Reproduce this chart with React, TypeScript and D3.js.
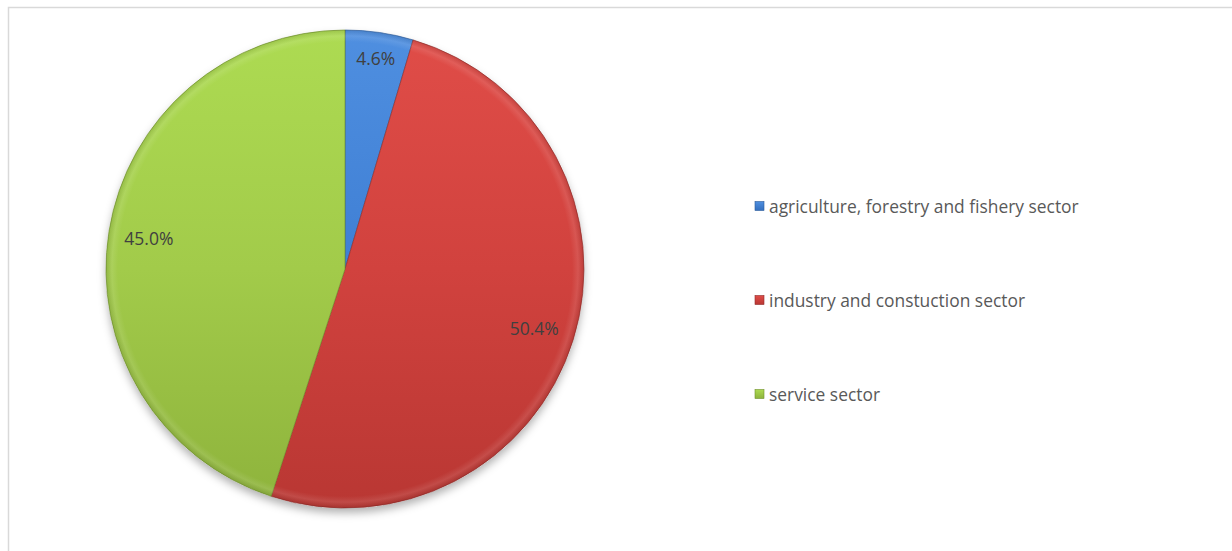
import React from "react";
import * as d3 from "d3";

const categories = [
  "agriculture, forestry and fishery sector",
  "industry and constuction sector",
  "service sector",
];
const shares = [4.6, 50.4, 45.0];
const labels = ["4.6%", "50.4%", "45.0%"];

const palette = [
  { light: "#4f8fe0", base: "#3f7fd4", dark: "#336fbf", edge: "#2a5a99" },
  { light: "#e04d48", base: "#d1423e", dark: "#b93733", edge: "#8f2a28" },
  { light: "#addb52", base: "#a2cb4a", dark: "#8eb33c", edge: "#6e8f2b" },
];

const W = 1232;
const H = 551;
const cx = 345;
const cy = 269;
const R = 239;

export default function App() {
  const pie = d3
    .pie<number>()
    .sort(null)
    .value((d) => d);
  const arcs = pie(shares);
  const arcGen = d3.arc<d3.PieArcDatum<number>>().innerRadius(0).outerRadius(R);

  const labelFont = 17.5;
  const charW = labelFont * 0.58;

  return (
    <svg
      width={W}
      height={H}
      style={{ position: "absolute", left: 0, top: 0, display: "block" }}
      fontFamily="'Open Sans', sans-serif"
    >
      <defs>
        {palette.map((p, i) => (
          <linearGradient
            key={i}
            id={`fill${i}`}
            gradientUnits="userSpaceOnUse"
            x1={0}
            y1={-R}
            x2={0}
            y2={R}
          >
            <stop offset="0%" stopColor={p.light} />
            <stop offset="50%" stopColor={p.base} />
            <stop offset="100%" stopColor={p.dark} />
          </linearGradient>
        ))}
        <radialGradient id="bevel" gradientUnits="userSpaceOnUse" cx={0} cy={0} r={R}>
          <stop offset="0%" stopColor="#fff" stopOpacity={0} />
          <stop offset="95%" stopColor="#fff" stopOpacity={0} />
          <stop offset="97.5%" stopColor="#fff" stopOpacity={0.1} />
          <stop offset="100%" stopColor="#000" stopOpacity={0.1} />
        </radialGradient>
        <filter id="shadow" x="-20%" y="-20%" width="140%" height="140%">
          <feDropShadow dx={0} dy={5} stdDeviation={4} floodColor="#000" floodOpacity={0.3} />
        </filter>
        {palette.map((p, i) => (
          <linearGradient key={`lg${i}`} id={`leg${i}`} x1="0" y1="0" x2="0" y2="1">
            <stop offset="0%" stopColor={p.light} />
            <stop offset="100%" stopColor={p.dark} />
          </linearGradient>
        ))}
      </defs>

      {/* chart area frame */}
      <rect x={8.5} y={7.5} width={W} height={H} fill="#fff" stroke="#d9d9d9" strokeWidth={1.5} />

      <g transform={`translate(${cx},${cy})`}>
        <circle r={R} fill="#fff" filter="url(#shadow)" />
        {arcs.map((a, i) => (
          <path
            key={i}
            d={arcGen(a) || ""}
            fill={`url(#fill${i})`}
            stroke={palette[i].edge}
            strokeWidth={0.8}
            strokeOpacity={0.8}
          />
        ))}
        <circle r={R} fill="url(#bevel)" />
        {arcs.map((a, i) => {
          const mid = (a.startAngle + a.endAngle) / 2;
          const ux = Math.sin(mid);
          const uy = -Math.cos(mid);
          const halfW = (labels[i].length * charW) / 2;
          const halfH = labelFont * 0.5;
          const r = R - 14 - Math.abs(ux) * halfW - Math.abs(uy) * halfH;
          return (
            <text
              key={i}
              x={ux * r}
              y={uy * r}
              textAnchor="middle"
              dominantBaseline="central"
              fontSize={labelFont}
              fill="#404040"
            >
              {labels[i]}
            </text>
          );
        })}
      </g>

      {/* legend */}
      {categories.map((c, i) => {
        const y = 206 + i * 94;
        return (
          <g key={c} transform={`translate(755,${y})`}>
            <rect x={0} y={-4.5} width={9} height={9} fill={`url(#leg${i})`} stroke={palette[i].edge} strokeWidth={0.6} />
            <text x={14} y={0} dominantBaseline="central" fontSize={17.4} fill="#595959">
              {c}
            </text>
          </g>
        );
      })}
    </svg>
  );
}
